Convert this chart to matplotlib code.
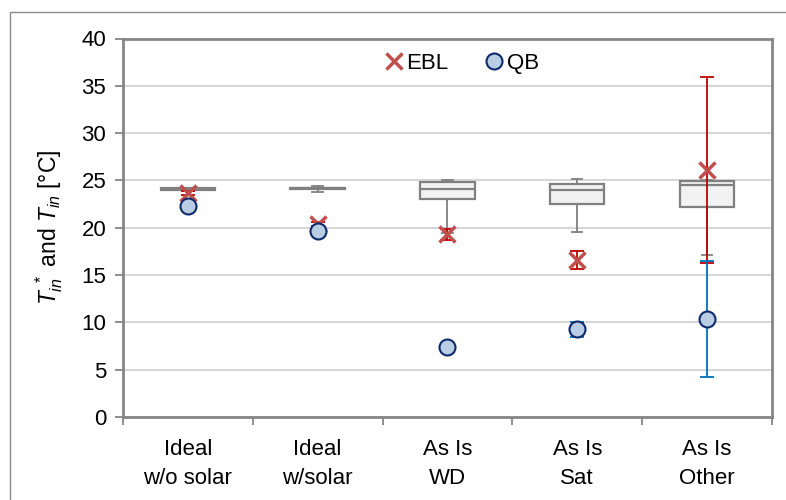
import matplotlib
matplotlib.use("Agg")
import matplotlib.pyplot as plt
from matplotlib.patches import Rectangle

plt.rcParams['font.family'] = ['Liberation Sans', 'DejaVu Sans']
plt.rcParams['mathtext.fontset'] = 'custom'
plt.rcParams['mathtext.rm'] = 'Liberation Sans'
plt.rcParams['mathtext.it'] = 'Liberation Sans:italic'

# categories
categories = ['Ideal\nw/o solar', 'Ideal\nw/solar', 'As Is\nWD', 'As Is\nSat', 'As Is\nOther']

# box plot statistics of T_in*
box_whislo = [23.9, 23.8, 19.4, 19.5, 17.1]
box_q1 = [24.0, 24.1, 23.0, 22.5, 22.15]
box_med = [24.1, 24.2, 24.1, 23.95, 24.5]
box_q3 = [24.15, 24.25, 24.8, 24.65, 24.9]
box_whishi = [24.2, 24.4, 25.0, 25.1, 25.0]

# EBL and QB mean with error
ebl_mean = [23.7, 20.4, 19.3, 16.6, 26.1]
ebl_err = [0.2, 0.2, 0.55, 0.95, 9.8]
qb_mean = [22.35, 19.7, 7.45, 9.25, 10.35]
qb_err = [0.2, 0.2, 0.2, 0.8, 6.15]

pos = list(range(1, len(categories) + 1))

fig = plt.figure(figsize=(7.86, 5.0), dpi=100)
fig.patches.append(Rectangle((10 / 786, -0.1), 1.2, 1.1 - 12 / 500, transform=fig.transFigure,
                             fill=False, edgecolor='#8C8C8C', linewidth=1.0))
ax = fig.add_axes([0.1565, 0.166, 0.8255, 0.757])

stats = []
for i in range(len(categories)):
    stats.append({'whislo': box_whislo[i], 'q1': box_q1[i], 'med': box_med[i],
                  'q3': box_q3[i], 'whishi': box_whishi[i], 'fliers': []})

ax.bxp(stats, positions=pos, widths=0.42, capwidths=0.08, patch_artist=True, showfliers=False,
       boxprops=dict(facecolor='#F2F2F2', edgecolor='#808080', linewidth=1.6),
       medianprops=dict(color='#808080', linewidth=1.6),
       whiskerprops=dict(color='#808080', linewidth=1.3),
       capprops=dict(color='#808080', linewidth=1.3), zorder=2)

ax.errorbar(pos, ebl_mean, yerr=ebl_err, fmt='none', ecolor='#C00000', elinewidth=1.3,
            capsize=5, capthick=1.3, zorder=3)
ax.plot(pos, ebl_mean, linestyle='none', marker='x', markersize=11, markeredgewidth=2.5,
        color='#C0504D', label='EBL', zorder=4)
ax.errorbar(pos, qb_mean, yerr=qb_err, fmt='none', ecolor='#0070C0', elinewidth=1.3,
            capsize=5, capthick=1.3, zorder=5)
ax.plot(pos, qb_mean, linestyle='none', marker='o', markersize=11.5, markeredgewidth=1.5,
        markerfacecolor='#B9CDE5', markeredgecolor='#0D2A6B', label='QB', zorder=6)

ax.set_xlim(0.5, len(categories) + 0.5)
ax.set_ylim(0, 40)
ax.set_yticks(range(0, 41, 5))
ax.set_xticks(pos)
ax.set_xticklabels(categories, linespacing=1.5)
ax.set_xticks([p + 0.5 for p in [0] + pos], minor=True)
ax.tick_params(axis='x', which='major', length=0, pad=16, labelsize=16)
ax.tick_params(axis='x', which='minor', length=6, width=1.3, color='#868686')
ax.tick_params(axis='y', length=6, width=1.3, color='#868686', labelsize=16, pad=6)

ax.grid(axis='y', color='#D0D0D0', linewidth=1.2, zorder=0)
ax.set_axisbelow(True)
for s in ax.spines.values():
    s.set_color('#868686')
    s.set_linewidth(2)

ax.set_ylabel(r'$T_{in}^{\ *}$ and $T_{in}$ [°C]', fontsize=16.5, labelpad=12)

ax.legend(loc='upper center', bbox_to_anchor=(0.52, 1.015), ncol=2, frameon=False,
          fontsize=16, handletextpad=0.0, columnspacing=1.5, handlelength=1.1)

fig.savefig('out.png', dpi=100)
